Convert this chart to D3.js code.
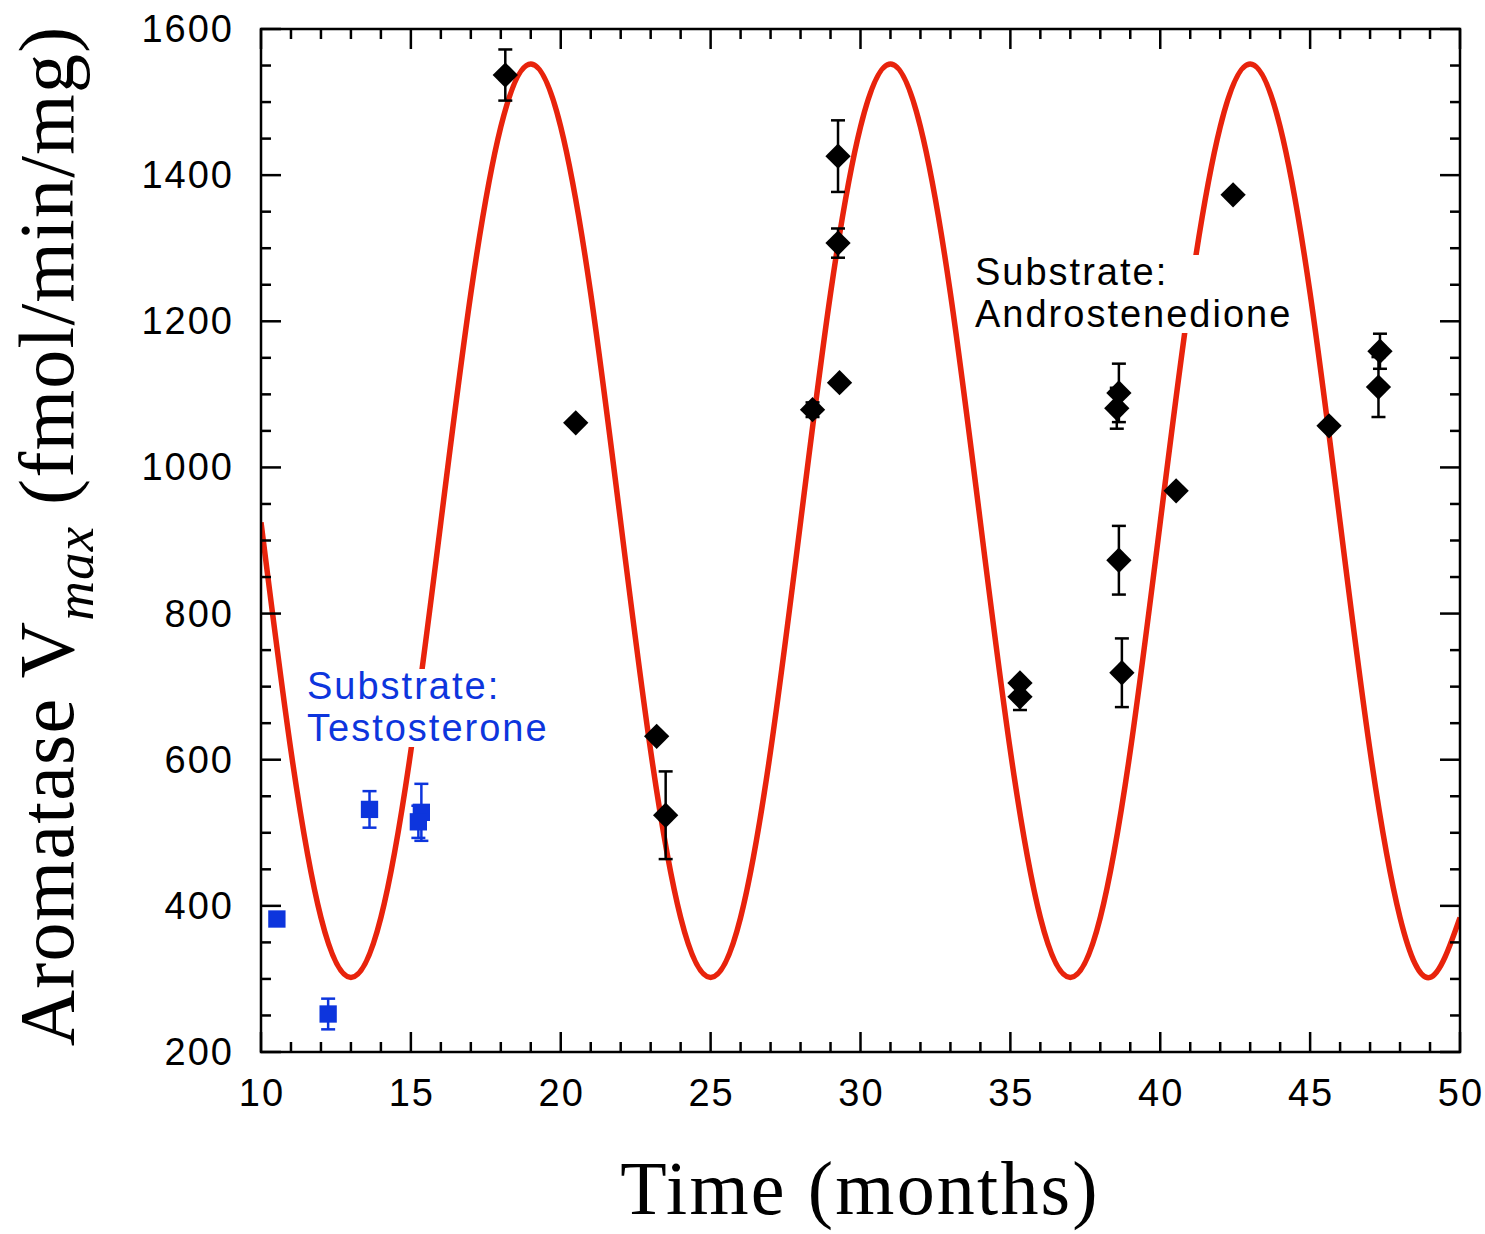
<!DOCTYPE html>
<html><head><meta charset="utf-8">
<script src="https://cdn.jsdelivr.net/npm/d3@7"></script>
<style>body{margin:0;background:#fff}svg{display:block}</style>
</head><body>
<script>
// ---- data ----
const xTicks = [10,15,20,25,30,35,40,45,50];
const yTicks = [200,400,600,800,1000,1200,1400,1600];

// fitted curve (month, Vmax)
const curveT = [10,11,12,13,14,15,16,17,18,19,20,21,22,23,24,25,26,27,28,29,30,31,32,33,34,35,36,37,38,39,40,41,42,43,44,45,46,47,48,49,50];
const curveV = [925,612,384,302,384,612,925,1238,1466,1552,1466,1238,925,612,384,302,384,612,925,1238,1466,1552,1466,1238,925,612,384,302,384,612,925,1238,1466,1552,1466,1238,925,612,384,302,384];

// Androstenedione substrate (black diamonds)
const andT   = [18.15,20.5,23.2,23.5,28.4,29.25,29.25,29.3,35.32,35.32,38.72,38.62,38.62,38.55,40.53,42.43,45.63,47.33,47.28];
const andV   = [1537,1061,632,524,1079,1426,1307,1116,705,686,719,873,1102,1081,968,1373,1057,1159,1110];
const andErr = [35,0,0,60,10,49,20,0,0,18,47,47,40,28,0,0,0,24,41];

// Testosterone substrate (blue squares)
const tesT   = [10.53,12.24,13.62,15.35,15.25];
const tesV   = [382,252,532,528,515];
const tesErr = [0,21,25,39,22];

// ---- layout ----
const W = 1485, H = 1234;
const m = {l:261, r:1460, t:29, b:1052};
const red = "#e8230c", blue = "#0d35dd";
const sans = "'Liberation Sans', Arial, Helvetica, sans-serif";
const serif = "'Liberation Serif', 'Times New Roman', serif";

const svg = d3.select("body").append("svg").attr("width",W).attr("height",H);
const x = d3.scaleLinear().domain([10,50]).range([m.l,m.r]);
const y = d3.scaleLinear().domain([200,1600]).range([m.b,m.t]);

svg.append("defs").append("clipPath").attr("id","clip")
  .append("rect").attr("x",m.l).attr("y",m.t).attr("width",m.r-m.l).attr("height",m.b-m.t);

// curve
const line = d3.line().x(d=>x(d[0])).y(d=>y(d[1])).curve(d3.curveNatural);
svg.append("path").datum(curveT.map((t,i)=>[t,curveV[i]]))
  .attr("clip-path","url(#clip)")
  .attr("d",line).attr("fill","none").attr("stroke",red).attr("stroke-width",5.5);

// annotations with white background
function annot(x0, y0, lines, color){
  const g = svg.append("g");
  const bg = g.append("rect").attr("fill","#fff");
  const t = g.append("text").attr("font-family",sans).attr("font-size",38)
    .attr("letter-spacing",2).attr("fill",color);
  lines.forEach((s,i)=>t.append("tspan").attr("x",x0).attr("y",y0+i*42).text(s));
  const bb = t.node().getBBox();
  bg.attr("x",bb.x-3).attr("y",bb.y+4).attr("width",bb.width+6).attr("height",bb.height-6);
}
annot(975, 285, ["Substrate:","Androstenedione"], "#000");
annot(307, 699, ["Substrate:","Testosterone"], blue);

// error bars
function errBars(T,V,E,color){
  const g = svg.append("g").attr("stroke",color).attr("stroke-width",2.5);
  T.forEach((t,i)=>{
    if(!E[i]) return;
    const cx = x(t), y1 = y(V[i]+E[i]), y2 = y(V[i]-E[i]);
    g.append("line").attr("x1",cx).attr("x2",cx).attr("y1",y1).attr("y2",y2);
    g.append("line").attr("x1",cx-7).attr("x2",cx+7).attr("y1",y1).attr("y2",y1);
    g.append("line").attr("x1",cx-7).attr("x2",cx+7).attr("y1",y2).attr("y2",y2);
  });
}
errBars(andT,andV,andErr,"#000");
errBars(tesT,tesV,tesErr,blue);

// markers
const sq = d3.symbol().type(d3.symbolSquare);
svg.append("g").selectAll("path").data(andT.map((t,i)=>[t,andV[i]])).join("path")
  .attr("d",sq.size(320)()).attr("fill","#000")
  .attr("transform",d=>`translate(${x(d[0])},${y(d[1])}) rotate(45)`);
svg.append("g").selectAll("path").data(tesT.map((t,i)=>[t,tesV[i]])).join("path")
  .attr("d",d3.symbol().type(d3.symbolSquare).size(300)()).attr("fill",blue)
  .attr("transform",d=>`translate(${x(d[0])},${y(d[1])})`);

// frame and ticks
const ax = svg.append("g").attr("stroke","#000").attr("stroke-width",2.5);
ax.append("rect").attr("x",m.l).attr("y",m.t).attr("width",m.r-m.l).attr("height",m.b-m.t).attr("fill","none");
const xMinor = d3.range(10,51,1), yMinor = d3.range(200,1601,50);
xMinor.forEach(v=>{
  const L = v%5===0 ? 20 : 10, px = x(v);
  ax.append("line").attr("x1",px).attr("x2",px).attr("y1",m.b).attr("y2",m.b-L);
  ax.append("line").attr("x1",px).attr("x2",px).attr("y1",m.t).attr("y2",m.t+L);
});
yMinor.forEach(v=>{
  const L = v%200===0 ? 20 : 10, py = y(v);
  ax.append("line").attr("y1",py).attr("y2",py).attr("x1",m.l).attr("x2",m.l+L);
  ax.append("line").attr("y1",py).attr("y2",py).attr("x1",m.r).attr("x2",m.r-L);
});

// tick labels
svg.append("g").selectAll("text").data(xTicks).join("text")
  .attr("x",d=>x(d)+1).attr("y",1106).attr("text-anchor","middle").attr("letter-spacing",2)
  .attr("font-family",sans).attr("font-size",38).text(d=>d);
svg.append("g").selectAll("text").data(yTicks).join("text")
  .attr("x",234).attr("y",d=>y(d)+13).attr("text-anchor","end").attr("letter-spacing",2)
  .attr("font-family",sans).attr("font-size",38).text(d=>d);

// axis titles
svg.append("text").attr("x",860).attr("y",1214).attr("text-anchor","middle")
  .attr("font-family",serif).attr("font-size",76).attr("letter-spacing",2.2).text("Time (months)");
const yt = svg.append("text").attr("transform","translate(73,536) rotate(-90)")
  .attr("text-anchor","middle").attr("font-family",serif).attr("font-size",78).attr("letter-spacing",1.2);
yt.append("tspan").text("Aromatase V");
yt.append("tspan").attr("font-style","italic").attr("font-size",55).attr("dy",20).text("max");
yt.append("tspan").attr("dy",-20).text(" (fmol/min/mg)");
</script>
</body></html>
